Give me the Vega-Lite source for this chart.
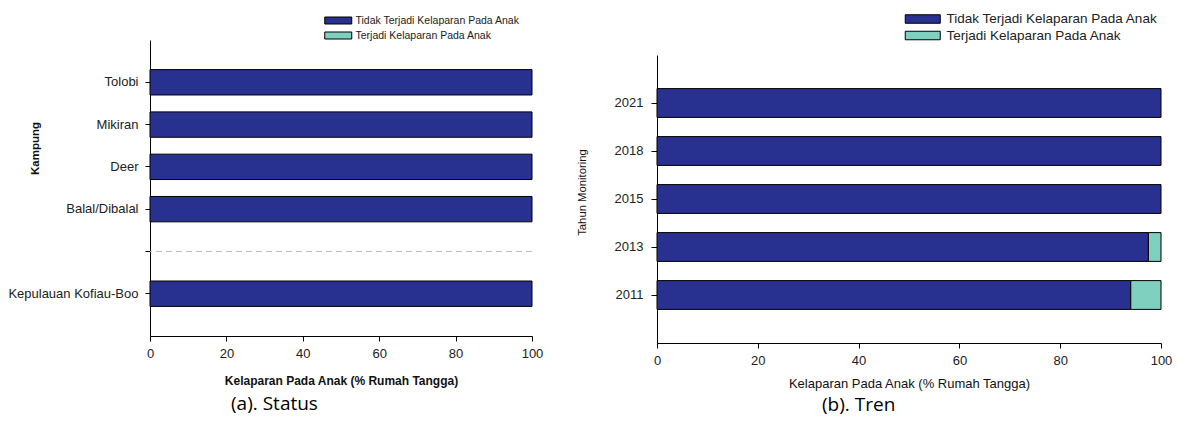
{
  "$schema": "https://vega.github.io/schema/vega-lite/v6.json",
  "background": "white",
  "padding": {"left": 7, "top": 12, "right": 5, "bottom": 5},
  "spacing": 33,
  "config": {
    "view": {"stroke": null},
    "axis": {"domainColor": "black", "tickColor": "black", "labelColor": "#222222", "titleColor": "#111111", "labelFont": "Liberation Sans", "titleFont": "Liberation Sans", "grid": false, "labelFontSize": 13, "tickSize": 5}
  },
  "resolve": {"scale": {"color": "independent"}, "legend": {"color": "independent"}},
  "hconcat": [
    {
      "width": 382,
      "height": 296,
      "title": {"text": "(a). Status", "orient": "bottom", "anchor": "start", "frame": "group", "dx": 81, "font": "Open Sans", "fontSize": 19, "fontWeight": "normal", "color": "black", "offset": 9},
      "layer": [
        {
          "data": {"values": [
            {"kampung": "Tolobi", "kategori": "Tidak Terjadi Kelaparan Pada Anak", "persen": 100},
            {"kampung": "Mikiran", "kategori": "Tidak Terjadi Kelaparan Pada Anak", "persen": 100},
            {"kampung": "Deer", "kategori": "Tidak Terjadi Kelaparan Pada Anak", "persen": 100},
            {"kampung": "Balal/Dibalal", "kategori": "Tidak Terjadi Kelaparan Pada Anak", "persen": 100},
            {"kampung": "Kepulauan Kofiau-Boo", "kategori": "Tidak Terjadi Kelaparan Pada Anak", "persen": 100}
          ]},
          "mark": {"type": "bar", "stroke": "black", "strokeWidth": 1},
          "encoding": {
            "y": {"field": "kampung", "type": "nominal",
              "scale": {"domain": ["Tolobi", "Mikiran", "Deer", "Balal/Dibalal", " ", "Kepulauan Kofiau-Boo"], "paddingInner": 0.4, "paddingOuter": 0.7},
              "axis": {"title": "Kampung", "titleFontWeight": "bold", "titleFontSize": 11.5, "titleX": -115, "titleY": 108, "titleAngle": 270, "titleAlign": "center", "titleBaseline": "middle", "labelPadding": 7}},
            "x": {"field": "persen", "type": "quantitative", "stack": "zero",
              "scale": {"domain": [0, 100], "nice": false},
              "axis": {"title": "Kelaparan Pada Anak (% Rumah Tangga)", "titleFontWeight": "bold", "titleFontSize": 12, "values": [0, 20, 40, 60, 80, 100], "labelFlush": false, "labelPadding": 6, "titlePadding": 15}},
            "color": {"field": "kategori", "type": "nominal",
              "scale": {"domain": ["Tidak Terjadi Kelaparan Pada Anak", "Terjadi Kelaparan Pada Anak"], "range": ["#28318f", "#80d0c0"]},
              "legend": {"orient": "none", "legendX": 183, "legendY": -24.75, "title": null, "symbolType": "M-3.857,-1H3.857V1H-3.857Z", "symbolSize": 49, "symbolStrokeColor": "black", "symbolStrokeWidth": 1, "symbolOpacity": 1, "labelFont": "Liberation Sans", "labelFontSize": 10.5, "labelColor": "#222222", "labelOffset": 12, "labelLimit": 400, "rowPadding": 3, "padding": 0}},
            "order": {"field": "kategori", "sort": "descending"}
          }
        },
        {
          "data": {"values": [{}]},
          "mark": {"type": "rule", "color": "#bbbbbb", "strokeDash": [6, 4], "strokeWidth": 1},
          "encoding": {"y": {"datum": " ", "type": "nominal"}}
        }
      ]
    },
    {
      "width": 504,
      "height": 303,
      "title": {"text": "(b). Tren", "orient": "bottom", "anchor": "start", "frame": "group", "dx": 165, "font": "Open Sans", "fontSize": 19, "fontWeight": "normal", "color": "black", "offset": 6},
      "data": {"values": [
        {"tahun": "2021", "kategori": "Tidak Terjadi Kelaparan Pada Anak", "persen": 100},
        {"tahun": "2018", "kategori": "Tidak Terjadi Kelaparan Pada Anak", "persen": 100},
        {"tahun": "2015", "kategori": "Tidak Terjadi Kelaparan Pada Anak", "persen": 100},
        {"tahun": "2013", "kategori": "Tidak Terjadi Kelaparan Pada Anak", "persen": 97.5},
        {"tahun": "2013", "kategori": "Terjadi Kelaparan Pada Anak", "persen": 2.5},
        {"tahun": "2011", "kategori": "Tidak Terjadi Kelaparan Pada Anak", "persen": 94},
        {"tahun": "2011", "kategori": "Terjadi Kelaparan Pada Anak", "persen": 6}
      ]},
      "mark": {"type": "bar", "stroke": "black", "strokeWidth": 1},
      "encoding": {
        "y": {"field": "tahun", "type": "nominal",
          "scale": {"domain": ["2021", "2018", "2015", "2013", "2011"], "range": [15, 303], "paddingInner": 0.4, "paddingOuter": 0.7},
          "axis": {"title": "Tahun Monitoring", "titleFontWeight": "normal", "titleFontSize": 11.3, "titleX": -75, "titleY": 152, "titleAngle": 270, "titleAlign": "center", "titleBaseline": "middle", "labelPadding": 8, "tickSize": 6}},
        "x": {"field": "persen", "type": "quantitative", "stack": "zero",
          "scale": {"domain": [0, 100], "nice": false},
          "axis": {"title": "Kelaparan Pada Anak (% Rumah Tangga)", "titleFontWeight": "normal", "titleFontSize": 13, "values": [0, 20, 40, 60, 80, 100], "labelFlush": false, "labelPadding": 6, "titlePadding": 10}},
        "color": {"field": "kategori", "type": "nominal",
          "scale": {"domain": ["Tidak Terjadi Kelaparan Pada Anak", "Terjadi Kelaparan Pada Anak"], "range": ["#28318f", "#80d0c0"]},
          "legend": {"orient": "none", "legendX": 259, "legendY": -27.75, "title": null, "symbolType": "M-4.118,-1H4.118V1H-4.118Z", "symbolSize": 72.25, "symbolStrokeColor": "black", "symbolStrokeWidth": 1, "symbolOpacity": 1, "labelFont": "Liberation Sans", "labelFontSize": 13.5, "labelColor": "#222222", "labelOffset": 17, "labelLimit": 400, "rowPadding": 1.5, "padding": 0}},
        "order": {"field": "kategori", "sort": "descending"}
      }
    }
  ]
}
